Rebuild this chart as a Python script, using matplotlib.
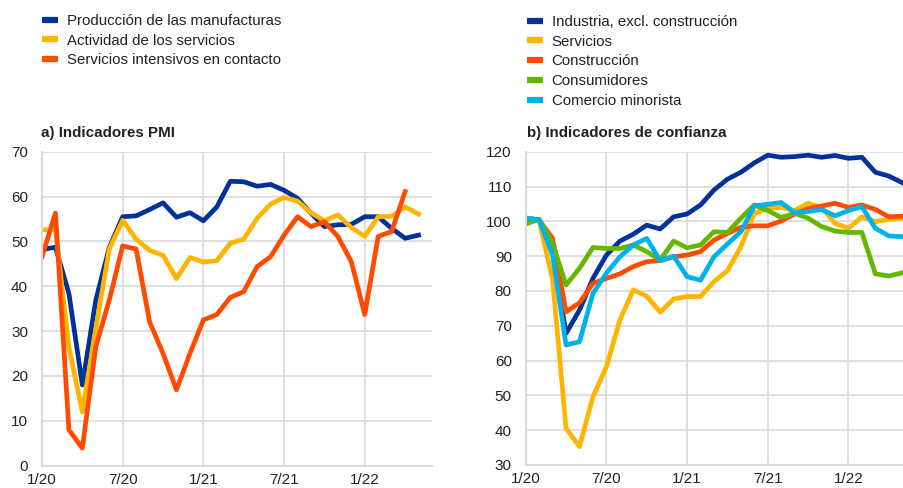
import matplotlib
matplotlib.use('Agg')
import matplotlib.pyplot as plt
import numpy as np

plt.rcParams['font.family'] = ['Liberation Sans', 'DejaVu Sans']

# meses desde enero de 2020
meses = np.arange(29)
etiquetas_x = ['1/20', '7/20', '1/21', '7/21', '1/22']
pos_x = [0, 6, 12, 18, 24]

# a) Indicadores PMI
manufacturas = [48.2, 48.7, 38.4, 18.0, 36.9, 48.6, 55.5, 55.7, 57.1, 58.6, 55.4, 56.4, 54.6, 57.7,
                63.4, 63.3, 62.3, 62.7, 61.4, 59.6, 56.3, 53.3, 53.7, 53.8, 55.5, 55.5, 52.9, 50.7, 51.4]
servicios_pmi = [52.6, 52.6, 26.4, 12.0, 30.5, 48.3, 54.7, 50.5, 48.0, 46.9, 41.7, 46.4, 45.4, 45.7,
                 49.6, 50.5, 55.2, 58.3, 59.8, 59.0, 56.4, 54.6, 55.9, 53.1, 51.1, 55.5, 55.6, 57.7, 56.1]
contacto = [46.6, 56.3, 8.0, 3.9, 26.5, 36.9, 49.0, 48.3, 32.1, 25.0, 16.9, 25.0, 32.5, 33.7,
            37.5, 38.8, 44.4, 46.6, 51.4, 55.5, 53.3, 54.4, 51.1, 45.5, 33.7, 51.1, 52.2, 61.1]

# b) Indicadores de confianza
industria = [100.9, 100.4, 91.8, 67.8, 74.5, 83.6, 90.3, 94.3, 96.3, 98.9, 97.8, 101.3, 102.1, 104.7,
             109.0, 112.1, 114.1, 116.8, 119.0, 118.4, 118.6, 119.0, 118.4, 118.9, 118.1, 118.4, 114.1, 113.0, 111.1]
servicios = [100.5, 100.2, 83.1, 40.5, 35.3, 49.6, 58.2, 71.6, 80.3, 78.5, 73.9, 77.7, 78.4, 78.4,
             82.7, 85.8, 92.7, 102.3, 103.7, 104.0, 103.1, 105.2, 104.0, 99.4, 98.0, 101.3, 99.9, 100.6, 100.9]
construccion = [100.5, 100.3, 95.1, 74.0, 76.6, 82.2, 83.6, 84.9, 87.0, 88.4, 88.7, 89.8, 90.3, 91.3,
                94.6, 96.5, 98.3, 98.7, 98.7, 100.1, 102.1, 103.7, 104.4, 105.2, 104.0, 104.7, 103.4, 101.3, 101.5]
consumidores = [99.2, 100.6, 93.7, 81.7, 86.5, 92.5, 92.2, 92.2, 93.2, 91.3, 88.9, 94.3, 92.4, 93.2,
                97.0, 96.8, 100.9, 104.7, 103.1, 101.1, 102.3, 100.9, 98.5, 97.2, 96.8, 96.8, 84.9, 84.3, 85.2]
minorista = [101.0, 100.4, 90.3, 64.5, 65.4, 79.3, 85.1, 89.8, 93.2, 95.1, 88.7, 90.0, 84.1, 83.1,
             89.8, 93.5, 97.0, 104.4, 104.9, 105.4, 102.5, 102.8, 103.4, 101.6, 103.1, 104.2, 98.0, 95.8, 95.6]

azul = '#003299'
amarillo = '#FFB400'
rojo = '#FF4B00'
verde = '#65B800'
cian = '#00B1EA'
gris = '#D9D9D9'
texto = '#222222'

fig = plt.figure(figsize=(9.04, 4.88), dpi=100)
ax1 = fig.add_axes([42 / 904, 22.3 / 488, 390 / 904, 314 / 488])
ax2 = fig.add_axes([525.7 / 904, 23 / 488, 390 / 904, 313.3 / 488])

lw = 3.4
l1, = ax1.plot(meses, manufacturas, color=azul, lw=lw, label='Producción de las manufacturas')
l2, = ax1.plot(meses, servicios_pmi, color=amarillo, lw=lw, label='Actividad de los servicios')
l3, = ax1.plot(meses[:len(contacto)], contacto, color=rojo, lw=lw, label='Servicios intensivos en contacto')

r1, = ax2.plot(meses, industria, color=azul, lw=lw, label='Industria, excl. construcción')
r2, = ax2.plot(meses, servicios, color=amarillo, lw=lw, label='Servicios')
r3, = ax2.plot(meses, construccion, color=rojo, lw=lw, label='Construcción')
r4, = ax2.plot(meses, consumidores, color=verde, lw=lw, label='Consumidores')
r5, = ax2.plot(meses, minorista, color=cian, lw=lw, label='Comercio minorista')

for ax, lim, paso in [(ax1, (0, 70), 10), (ax2, (30, 120), 10)]:
    ax.set_xlim(0, 29)
    ax.set_ylim(*lim)
    ax.set_yticks(np.arange(lim[0], lim[1] + 1, paso))
    ax.set_xticks(pos_x)
    ax.set_xticklabels(etiquetas_x)
    ax.grid(True, color=gris, lw=1.2)
    ax.set_axisbelow(True)
    for s in ['top', 'right']:
        ax.spines[s].set_visible(False)
    for s in ['left', 'bottom']:
        ax.spines[s].set_color(gris)
        ax.spines[s].set_linewidth(1.5)
    ax.tick_params(axis='both', length=0, labelsize=11, colors=texto)
    ax.tick_params(axis='x', pad=5)
    ax.tick_params(axis='y', pad=10)

fig.text(41 / 904, 1 - 133 / 488, 'a) Indicadores PMI', fontsize=10.9, fontweight='bold',
         color=texto, va='center', ha='left')
fig.text(527.5 / 904, 1 - 133 / 488, 'b) Indicadores de confianza', fontsize=10.9, fontweight='bold',
         color=texto, va='center', ha='left')

ley = dict(loc='upper left', frameon=False, fontsize=10.8, handlelength=1.05, handletextpad=0.6,
           labelspacing=0.38, borderpad=0, borderaxespad=0, labelcolor=texto)
lg1 = fig.legend(handles=[l1, l2, l3], bbox_to_anchor=(42 / 904, 1 - 14 / 488), **ley)
lg2 = fig.legend(handles=[r1, r2, r3, r4, r5], bbox_to_anchor=(527 / 904, 1 - 15 / 488), **ley)
for lg in (lg1, lg2):
    for h in lg.legend_handles:
        h.set_linewidth(4.5)
        h.set_solid_capstyle('butt')

fig.savefig('out.png', dpi=100)
